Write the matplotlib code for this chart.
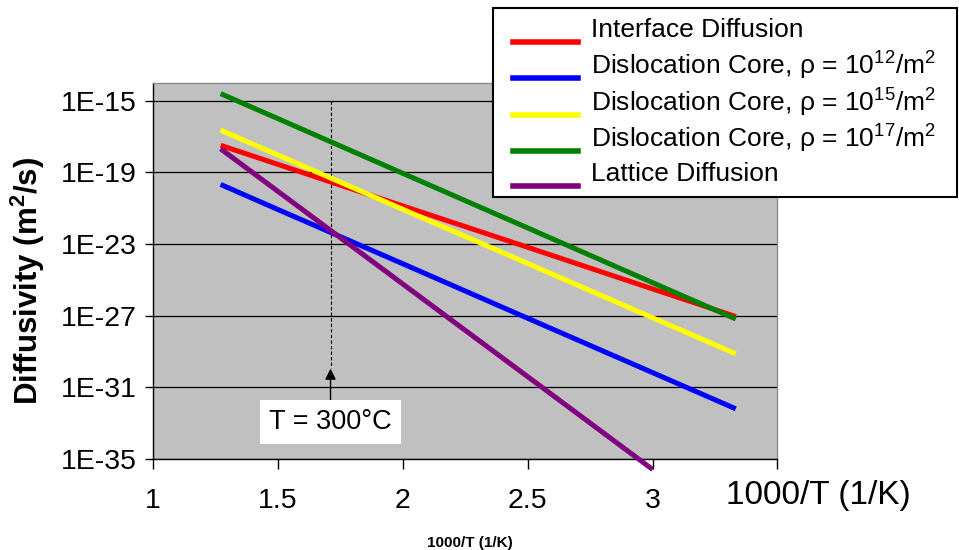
import matplotlib
matplotlib.use("Agg")
import matplotlib.pyplot as plt
from matplotlib.lines import Line2D
from matplotlib.patches import Rectangle
from matplotlib.ticker import FixedLocator, FuncFormatter, NullLocator
import numpy as np

plt.rcParams["font.family"] = ["Liberation Sans", "DejaVu Sans"]
plt.rcParams["mathtext.fontset"] = "custom"
plt.rcParams["mathtext.rm"] = "Liberation Sans"
plt.rcParams["mathtext.bf"] = "Liberation Sans:bold"

# 1000/T (1/K) sample points
inv_t = [1.27, 1.5, 2.0, 2.5, 3.0, 3.333]
inv_t_lattice = [1.27, 1.5, 2.0, 2.5, 3.0]

interface = [3.2e-18, 2.75e-19, 1.32e-21, 6.5e-24, 3.1e-26, 8.9e-28]
core_1e12 = [2.1e-20, 8.3e-22, 7.8e-25, 7.1e-28, 6.6e-31, 6.3e-33]
core_1e15 = [2.24e-17, 9.1e-19, 8.5e-22, 8.1e-25, 7.6e-28, 7.4e-30]
core_1e17 = [2.45e-15, 9.8e-17, 8.7e-20, 7.8e-23, 6.9e-26, 6.5e-28]
lattice = [2.04e-18, 8.5e-21, 5.75e-26, 3.9e-31, 2.6e-36]

labels = [
    "Interface Diffusion",
    r"Dislocation Core, ρ = 10$\mathregular{^{12}}$/m$\mathregular{^{2}}$",
    r"Dislocation Core, ρ = 10$\mathregular{^{15}}$/m$\mathregular{^{2}}$",
    r"Dislocation Core, ρ = 10$\mathregular{^{17}}$/m$\mathregular{^{2}}$",
    "Lattice Diffusion",
]
colors = ["#FF0000", "#0000FF", "#FFFF00", "#008000", "#800080"]

x_ticks = [1, 1.5, 2, 2.5, 3, 3.5]
x_tick_labels = ["1", "1.5", "2", "2.5", "3", ""]
t_mark_x = 1.71  # T = 300 C marker

fig = plt.figure(figsize=(9.59, 5.5), dpi=100)
ax = fig.add_axes([0.1598, 0.1655, 0.6509, 0.6841])
ax.set_facecolor("#C0C0C0")

series = [
    (inv_t, interface),
    (inv_t, core_1e12),
    (inv_t, core_1e15),
    (inv_t, core_1e17),
    (inv_t_lattice, lattice),
]
for (xs, ys), c in zip(series, colors):
    ax.plot(xs, ys, color=c, lw=3.6, solid_capstyle="butt",
            clip_on=False, zorder=3)

ax.set_yscale("log")
ax.set_xlim(1, 3.5)
ax.set_ylim(1e-35, 1e-14)
ax.yaxis.set_major_locator(FixedLocator(10.0 ** np.arange(-35, -14, 4)))
ax.yaxis.set_minor_locator(NullLocator())
ax.yaxis.set_major_formatter(
    FuncFormatter(lambda v, p: "1E%d" % round(np.log10(v))))
ax.set_xticks(x_ticks)
ax.set_xticklabels(x_tick_labels)
ax.grid(axis="y", color="black", lw=0.9, zorder=1)
ax.set_axisbelow(True)

ax.tick_params(axis="y", direction="out", length=6, width=1,
               labelsize=20.5, pad=6)
ax.tick_params(axis="x", direction="out", length=7, width=1,
               labelsize=20.5, pad=14)
for s in ["left", "bottom"]:
    ax.spines[s].set_color("black")
    ax.spines[s].set_linewidth(1.0)
for s in ["top", "right"]:
    ax.spines[s].set_color("#8C8C8C")
    ax.spines[s].set_linewidth(1.0)

# 300 C marker
ax.plot([t_mark_x, t_mark_x], [1e-15, 1.2e-30], color="black",
        lw=0.8, ls=(0, (3, 2)), zorder=2)
ax.annotate("T = 300°C", xy=(t_mark_x, 1.1e-30), xytext=(t_mark_x, 1.1e-33),
            ha="center", va="center", fontsize=19.5,
            bbox=dict(fc="white", ec="none", pad=6.5),
            arrowprops=dict(arrowstyle="-|>", color="black", lw=1,
                            mutation_scale=16, shrinkA=0, shrinkB=0),
            zorder=4)

fig.text(0.029, 0.489, "Diffusivity (m$\\mathbf{^2}$/s)", rotation=90,
         ha="center", va="center", fontsize=22.5, fontweight="bold")
fig.text(0.853, 0.099, "1000/T (1/K)", ha="center", va="center", fontsize=24)
fig.text(0.49, 0.013, "1000/T (1/K)", ha="center", va="center",
         fontsize=11, fontweight="bold")

# legend box
fig.patches.append(Rectangle((0.5145, 0.641), 0.483, 0.345,
                             transform=fig.transFigure, fc="white",
                             ec="black", lw=1.5, zorder=5))
line_y = [1 - 41.7 / 550, 1 - 77.7 / 550, 1 - 115 / 550,
          1 - 151 / 550, 1 - 186 / 550]
for ly, c, lab in zip(line_y, colors, labels):
    fig.lines.append(Line2D([0.535, 0.603], [ly, ly], color=c, lw=4,
                            transform=fig.transFigure, zorder=6))
    fig.text(0.616, ly + 0.022, lab, ha="left", va="center", fontsize=19,
             zorder=7)

fig.savefig("out.png", dpi=100)
